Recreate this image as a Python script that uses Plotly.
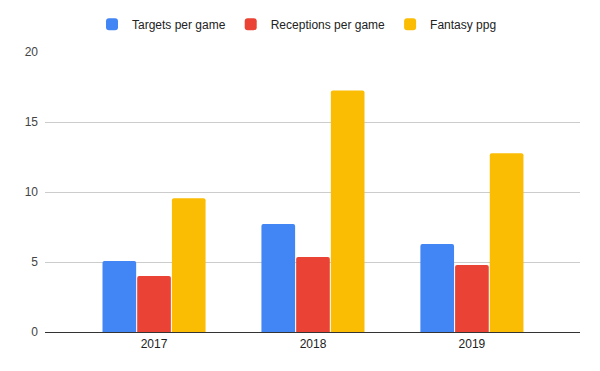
import plotly.graph_objects as go

years = ["2017", "2018", "2019"]
targets = [5.07, 7.71, 6.28]
receptions = [4.0, 5.36, 4.79]
fantasy = [9.56, 17.25, 12.76]

series = [
    ("Targets per game", targets, "#4285F4"),
    ("Receptions per game", receptions, "#EA4335"),
    ("Fantasy ppg", fantasy, "#FBBC04"),
]

fig = go.Figure()
for name, vals, color in series:
    fig.add_trace(go.Bar(x=years, y=vals, name=name, marker=dict(color=color, line=dict(width=0))))

fig.update_layout(
    width=600, height=371,
    paper_bgcolor="white", plot_bgcolor="white",
    font=dict(family="Liberation Sans, Arial, sans-serif", size=12, color="#444"),
    margin=dict(l=45, r=20, t=52, b=39, autoexpand=False),
    barmode="group", bargap=0.345, bargroupgap=0.03,
    barcornerradius=2,
    legend=dict(orientation="h", xref="container", x=0.495, xanchor="center",
                yref="container", y=0.974, yanchor="top",
                font=dict(size=12, color="#222"),
                itemwidth=30, traceorder="normal"),
    showlegend=True,
)
fig.update_xaxes(type="category", range=[-0.686, 2.68], showgrid=False,
                 showline=False, ticks="", tickfont=dict(color="#222"),
                 ticklabelstandoff=3)
fig.update_yaxes(range=[0, 20], dtick=5, showgrid=True, gridcolor="#cccccc",
                 zeroline=True, zerolinecolor="#333333", zerolinewidth=1,
                 tickfont=dict(color="#444"), ticklabelstandoff=6)
fig.write_html("out.html", post_script="document.body.style.margin='0';",
               config={"displayModeBar": False})
